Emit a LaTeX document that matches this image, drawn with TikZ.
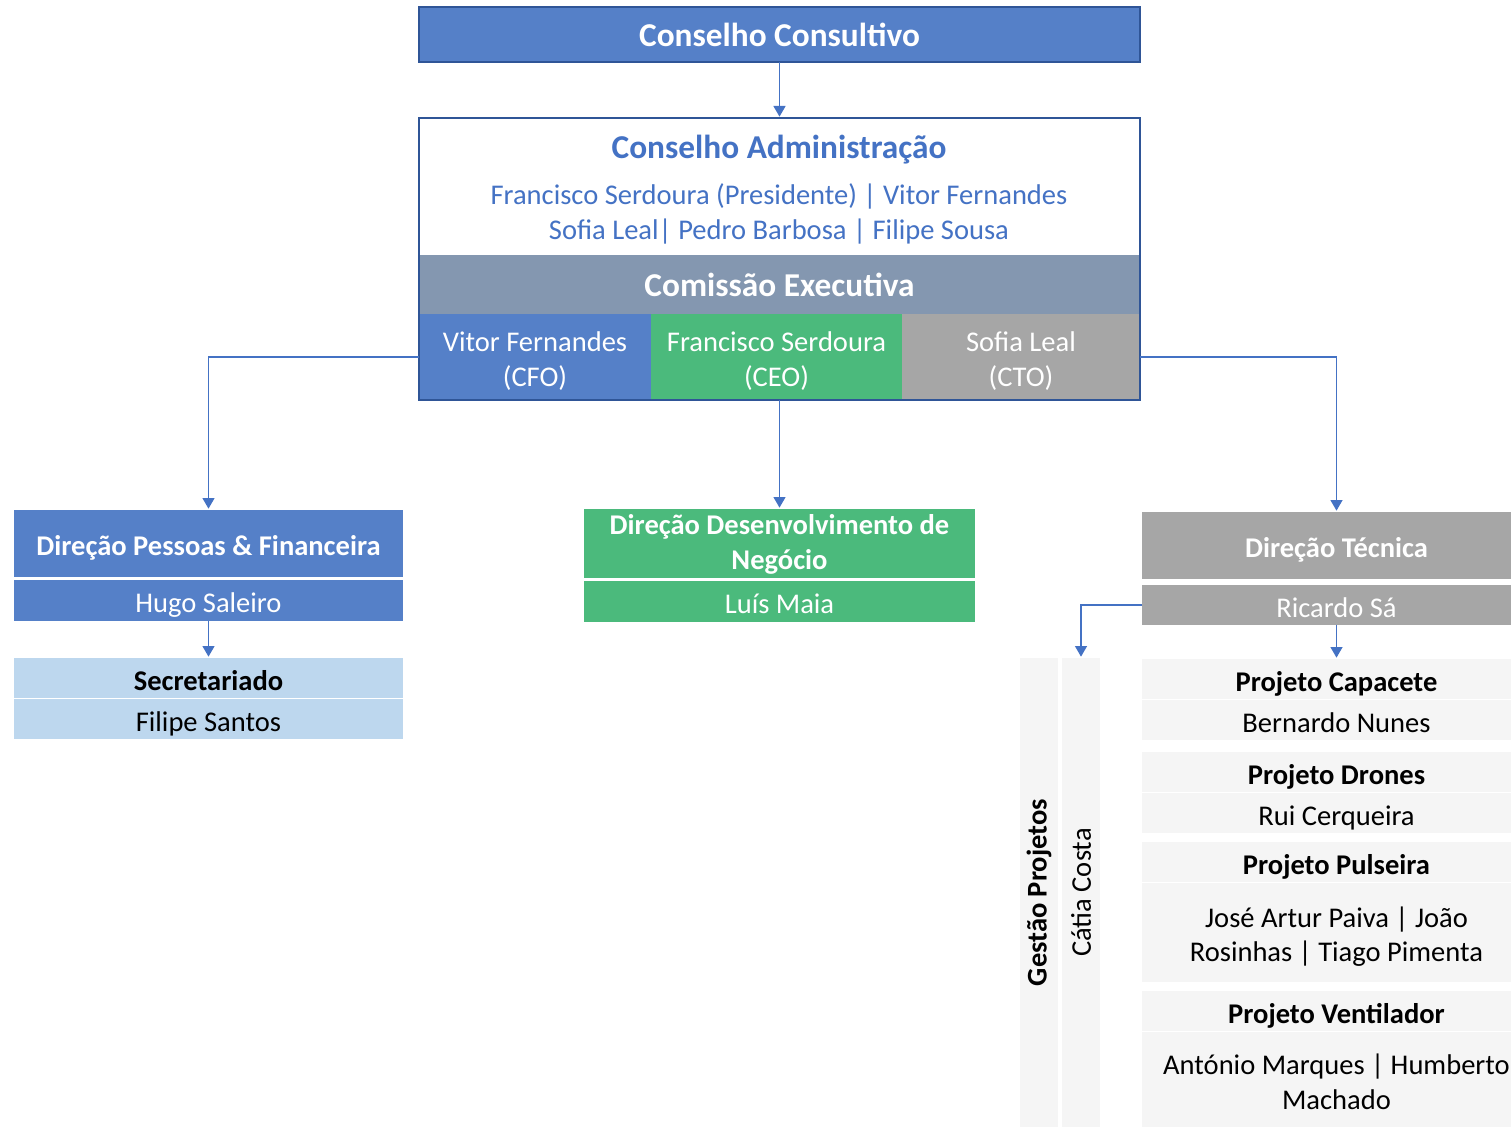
\documentclass[tikz,border=0pt]{standalone}
\usepackage{fontspec}
\setmainfont{Carlito}
\usetikzlibrary{arrows.meta}
\definecolor{cblue}{HTML}{5580C8}
\definecolor{dblue}{HTML}{2F5597}
\definecolor{lblue}{HTML}{4472C4}
\definecolor{cgreen}{HTML}{4BBA7C}
\definecolor{cgrey}{HTML}{A6A6A6}
\definecolor{band}{HTML}{8497B0}
\definecolor{secfill}{HTML}{BDD7EE}
\definecolor{proj}{HTML}{F5F5F5}
\newcommand\TopStrut{\rule{0pt}{24pt}}
\newcommand\MidStrut{\rule{0pt}{19pt}}
\newcommand\BotStrut{\rule[-5.8pt]{0pt}{0pt}}
\begin{document}
\begin{tikzpicture}[x=0.75pt,y=-0.75pt,
 bx/.style 2 args={anchor=north west, minimum width=#1*0.75pt, minimum height=#2*0.75pt, inner sep=0pt, outer sep=0pt, align=center,
   execute at begin node={\TopStrut}, execute at end node={\BotStrut}},
 body/.style={font=\fontsize{21.4}{26}\selectfont},
 head/.style={font=\fontsize{21.4}{26}\selectfont\bfseries},
 big/.style={font=\fontsize{25}{28}\selectfont\bfseries},
 conn/.style={draw=lblue, line width=1pt, -{Triangle[width=9pt,length=8pt]}, shorten >=1pt}
]
\useasboundingbox (0,0) rectangle (1511,1127);
\clip (0,0) rectangle (1511,1127);

% Conselho Consultivo
\node[bx={721}{55}, fill=cblue, draw=dblue, line width=1.5pt, big, text=white] (cc) at (419,7) {Conselho Consultivo};

% Conselho Administracao
\node[bx={721}{282}, fill=white] (ca) at (419,118) {};
\node[big, text=lblue, inner sep=0pt] (catitle) at (779,149.5) {Conselho Administração};
\node[body, text=lblue, align=center, inner sep=0pt] (camembers) at (779,214) {Francisco Serdoura (Presidente) | Vitor Fernandes\\Sofia Leal| Pedro Barbosa | Filipe Sousa};
\node[bx={721}{59}, fill=band, big, text=white] (ce) at (419,255) {Comissão Executiva};
\node[bx={232}{86}, fill=cblue, body, text=white] (cfo) at (419,314) {\TopStrut Vitor Fernandes\\(CFO)};
\node[bx={251}{86}, fill=cgreen, body, text=white] (ceo) at (651,314) {\TopStrut Francisco Serdoura\\(CEO)};
\node[bx={238}{86}, fill=cgrey, body, text=white] (cto) at (902,314) {\TopStrut Sofia Leal\\(CTO)};
\draw[dblue, line width=1.5pt] (ca.north west) rectangle (ca.south east);

% Left branch
\node[bx={389}{67}, fill=cblue, head, text=white] (dpf) at (14,510) {Direção Pessoas \& Financeira};
\node[bx={389}{41}, fill=cblue, body, text=white] (hugo) at (14,580) {Hugo Saleiro};
\node[bx={389}{38}, fill=secfill, head, text=black] (sec) at (14,658) {Secretariado};
\node[bx={389}{39}, fill=secfill, body, text=black] (filipe) at (14,699) {Filipe Santos};

% Middle branch
\node[bx={391}{69}, fill=cgreen, head, text=white] (ddn) at (584,509) {\MidStrut Direção Desenvolvimento de\\Negócio};
\node[bx={391}{41}, fill=cgreen, body, text=white] (luis) at (584,581) {Luís Maia};

% Right branch
\node[bx={389}{67}, fill=cgrey, head, text=white] (dt) at (1142,512) {Direção Técnica};
\node[bx={389}{39}, fill=cgrey, body, text=white] (rs) at (1142,585) {Ricardo Sá};

\node[bx={38}{469}, fill=proj] (gp) at (1020,658) {};
\node[head, rotate=90, inner sep=0pt] (gptext) at (gp.center) {Gestão Projetos};
\node[bx={38}{469}, fill=proj] (cat) at (1062,658) {};
\node[body, rotate=90, inner sep=0pt] (cattext) at (cat.center) {Cátia Costa};

\node[bx={389}{38}, fill=proj, head] (pcap) at (1142,659) {Projeto Capacete};
\node[bx={389}{38}, fill=proj, body] (bn) at (1142,700) {Bernardo Nunes};
\node[bx={389}{39}, fill=proj, head] (pdr) at (1142,752) {Projeto Drones};
\node[bx={389}{38}, fill=proj, body] (rc) at (1142,793) {Rui Cerqueira};
\node[bx={389}{39}, fill=proj, head] (ppu) at (1142,842) {Projeto Pulseira};
\node[bx={389}{99}, fill=proj, body] (ppun) at (1142,883) {\TopStrut José Artur Paiva | João\\Rosinhas | Tiago Pimenta};
\node[bx={389}{39}, fill=proj, head] (pve) at (1142,991) {Projeto Ventilador};
\node[bx={389}{96}, fill=proj, body] (pven) at (1142,1032) {\TopStrut António Marques | Humberto\\Machado};

% Connectors
\draw[conn] (cc.south) -- (ca.north);
\draw[conn] (cfo.west) -| (dpf.north);
\draw[conn] (ddn.north |- ceo.south) -- (ddn.north);
\draw[conn] (cto.east) -| (dt.north);
\draw[conn] (hugo.south) -- (sec.north);
\draw[conn] (rs.south) -- (pcap.north);
\draw[conn] (rs.west) -| (cat.north);
\end{tikzpicture}
\end{document}
